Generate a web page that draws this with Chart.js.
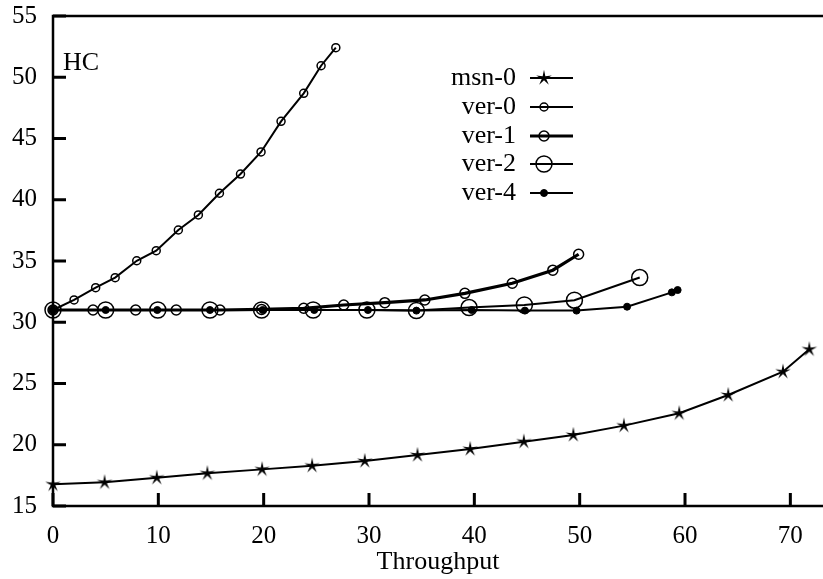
<!DOCTYPE html>
<html><head><meta charset="utf-8">
<script src="https://cdn.jsdelivr.net/npm/chart.js@4/dist/chart.umd.min.js"></script>
<style>html,body{margin:0;padding:0;background:#fff}#wrap{width:823px;height:579px}</style>
</head><body><div id="wrap"><canvas id="c" width="823" height="579"></canvas></div>
<script>
// ---- data ----
const seriesNames = ['msn-0','ver-0','ver-1','ver-2','ver-4'];
const msn0X = [0,4.9,9.85,14.65,19.85,24.6,29.6,34.6,39.6,44.7,49.4,54.2,59.45,64.1,69.3,71.8];
const msn0Y = [16.77,16.93,17.31,17.67,17.99,18.29,18.67,19.16,19.65,20.25,20.8,21.56,22.57,24.06,25.96,27.79];
const ver0X = [0,2.0,4.05,5.9,7.95,9.8,11.9,13.8,15.8,17.8,19.75,21.65,23.8,25.45,26.85];
const ver0Y = [31.0,31.82,32.82,33.64,35.02,35.84,37.53,38.76,40.53,42.1,43.9,46.4,48.69,50.94,52.41];
const ver1X = [0,3.8,7.85,11.7,15.85,19.8,23.8,27.6,31.5,35.3,39.1,43.6,47.45,49.9];
const ver1Y = [31.0,31.0,31.0,31.0,31.0,31.05,31.14,31.41,31.6,31.82,32.36,33.18,34.25,35.55];
const ver2X = [0,5.0,9.95,14.9,19.8,24.7,29.8,34.5,39.5,44.75,49.5,55.7];
const ver2Y = [31.0,31.0,31.0,31.0,31.0,31.0,31.0,30.95,31.2,31.41,31.8,33.65];
const ver4X = [0,5.0,9.9,14.9,19.9,24.8,29.9,34.5,39.75,44.8,49.7,54.5,58.75,59.3];
const ver4Y = [31.0,31.0,31.0,31.0,31.0,31.0,31.0,30.95,31.0,30.95,30.95,31.27,32.44,32.63];
const xTicks = [0,10,20,30,40,50,60,70];
const yTicks = [15,20,25,30,35,40,45,50,55];
const xTitle = 'Throughput';
const panelLabel = 'HC';

// ---- rendering ----
const FONT = 'Liberation Serif';
function pts(xs, ys){ return xs.map((v,i)=>({x:v,y:ys[i]})); }
const starImg = (()=>{
  const c=document.createElement('canvas'); c.width=c.height=18;
  const g=c.getContext('2d'); g.translate(9,9); g.beginPath();
  for(let i=0;i<10;i++){const r=i%2?2.3:8.2; const a=-Math.PI/2+i*Math.PI/5; g.lineTo(r*Math.cos(a), r*Math.sin(a));}
  g.closePath(); g.fillStyle='#000'; g.fill(); return c;
})();
const NONE='rgba(0,0,0,0)';
const base = {borderColor:'#000', pointBorderColor:'#000', tension:0, clip:false, fill:false};
const datasets = [
  {...base, label:seriesNames[0], data:pts(msn0X,msn0Y), borderWidth:2, pointStyle:starImg, pointRadius:8, pointBorderWidth:0, pointBackgroundColor:'#000'},
  {...base, label:seriesNames[1], data:pts(ver0X,ver0Y), borderWidth:2, pointStyle:'circle', pointRadius:4, pointBorderWidth:1.5, pointBackgroundColor:NONE},
  {...base, label:seriesNames[2], data:pts(ver1X,ver1Y), borderWidth:3.2, pointStyle:'circle', pointRadius:5, pointBorderWidth:1.5, pointBackgroundColor:NONE},
  {...base, label:seriesNames[3], data:pts(ver2X,ver2Y), borderWidth:2, pointStyle:'circle', pointRadius:8, pointBorderWidth:1.5, pointBackgroundColor:NONE},
  {...base, label:seriesNames[4], data:pts(ver4X,ver4Y), borderWidth:2, pointStyle:'circle', pointRadius:3.5, pointBorderWidth:1, pointBackgroundColor:'#000'}
];

const framePlugin = {
  id:'frame',
  afterDraw(chart){
    const {ctx, chartArea:a, scales:{x,y}} = chart;
    ctx.save();
    ctx.strokeStyle='#000'; ctx.lineWidth=2.5; ctx.lineCap='butt';
    ctx.beginPath();
    ctx.moveTo(823, a.top); ctx.lineTo(a.left, a.top); ctx.lineTo(a.left, a.bottom); ctx.lineTo(823, a.bottom);
    ctx.stroke();
    ctx.lineWidth=3;
    ctx.beginPath();
    y.ticks.forEach(t=>{const p=y.getPixelForValue(t.value); ctx.moveTo(a.left,p); ctx.lineTo(a.left+13,p);});
    x.ticks.forEach(t=>{const p=x.getPixelForValue(t.value); ctx.moveTo(p,a.bottom); ctx.lineTo(p,a.bottom-13);});
    ctx.stroke();
    // panel label
    ctx.fillStyle='#000'; ctx.font='26px "'+FONT+'"'; ctx.textAlign='left'; ctx.textBaseline='middle';
    ctx.fillText(panelLabel, a.left+10, 63);
    // legend
    const rowY=[78,107,136,164,193];
    chart.data.datasets.forEach((ds,i)=>{
      const yy=rowY[i];
      ctx.textAlign='right'; ctx.fillText(ds.label, 516, yy);
      ctx.lineWidth=ds.borderWidth; ctx.beginPath(); ctx.moveTo(530,yy); ctx.lineTo(573,yy); ctx.stroke();
      const mx=544;
      if(ds.pointStyle===starImg){ ctx.drawImage(starImg, mx-9, yy-9); }
      else {
        ctx.beginPath(); ctx.arc(mx,yy,ds.pointRadius,0,Math.PI*2);
        if(ds.pointBackgroundColor!==NONE){ctx.fillStyle='#000'; ctx.fill();}
        ctx.lineWidth=ds.pointBorderWidth; ctx.stroke();
      }
    });
    ctx.restore();
  }
};

new Chart(document.getElementById('c'), {
  type:'line',
  data:{datasets},
  options:{
    responsive:false, animation:false, devicePixelRatio:1,
    layout:{autoPadding:false, padding:{top:16,right:0,left:0,bottom:0}},
    plugins:{legend:{display:false}, tooltip:{enabled:false}},
    scales:{
      x:{type:'linear', min:0, max:73.1,
        afterBuildTicks(s){ s.ticks = xTicks.map(v=>({value:v})); },
        afterFit(s){ s.height=73; s.paddingLeft=0; s.paddingRight=0; },
        grid:{display:false, drawTicks:false}, border:{display:false},
        ticks:{color:'#000', font:{family:FONT,size:25}, padding:15, maxRotation:0, autoSkip:false},
        title:{display:true, text:xTitle, color:'#000', font:{family:FONT,size:26}, padding:{top:0,bottom:1}}
      },
      y:{type:'linear', min:15, max:55,
        afterBuildTicks(s){ s.ticks = yTicks.map(v=>({value:v})); },
        afterFit(s){ s.width=53; s.paddingTop=0; s.paddingBottom=0; },
        grid:{display:false, drawTicks:false}, border:{display:false},
        ticks:{color:'#000', font:{family:FONT,size:25}, padding:16, autoSkip:false}
      }
    }
  },
  plugins:[framePlugin]
});
</script></body></html>
